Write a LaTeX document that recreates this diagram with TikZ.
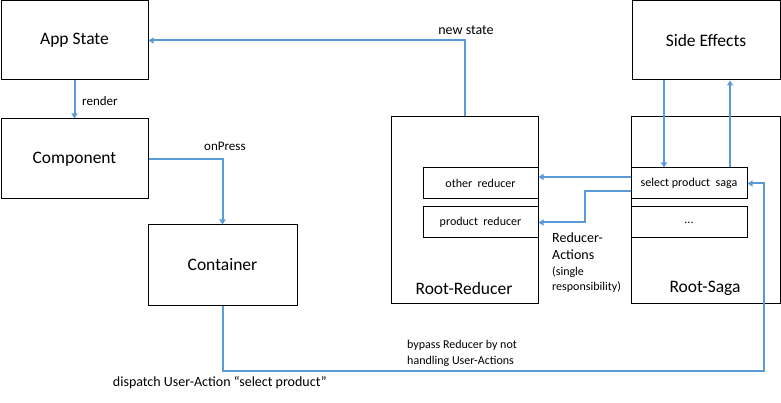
\documentclass[tikz,border=0pt]{standalone}
\usepackage{fontspec}
\setmainfont{Carlito}
\usetikzlibrary{arrows.meta}
\definecolor{lblue}{HTML}{5B9BD5}
\tikzset{
  box/.style={draw=black, line width=1pt, inner sep=0pt, font=\fontsize{17.5}{21}\selectfont},
  sub/.style={draw=black, line width=1pt, inner sep=0pt, minimum width=116pt, minimum height=31pt, font=\fontsize{12}{14}\selectfont},
  arr/.style={draw=lblue, line width=2pt, -{Triangle[length=5pt,width=6pt]}},
  lbl/.style={inner sep=0pt, font=\fontsize{13}{16}\selectfont},
  slbl/.style={inner sep=0pt, font=\fontsize{12}{16}\selectfont, align=left},
}
\begin{document}
\begin{tikzpicture}[x=1pt, y=-1pt]
\useasboundingbox (0,0) rectangle (781,403);
% boxes
\node[box, minimum width=147pt, minimum height=79pt] (app) at (74.5,40.5) {App State};
\node[box, minimum width=147pt, minimum height=80pt] (comp) at (74.5,159) {Component};
\node[box, minimum width=149pt, minimum height=80pt] (cont) at (222.5,265) {Container};
\node[box, minimum width=147pt, minimum height=186pt] (rr) at (464.5,210) {};
\node[box, minimum width=149pt, minimum height=186pt] (rs) at (705.5,210) {};
\node[box, minimum width=148pt, minimum height=79pt] (side) at (706,40.5) {Side Effects};
\node[inner sep=0pt, font=\fontsize{17.5}{21}\selectfont] (rrl) at (464,288) {Root-Reducer};
\node[inner sep=0pt, font=\fontsize{17.5}{21}\selectfont] (rsl) at (705,288) {Root-Saga};
\node[sub, minimum width=115pt] (other) at (480.5,183.5) {other\ \ reducer};
\node[sub, minimum width=115pt] (prod) at (480.5,222.5) {product\ \ reducer};
\node[sub] (saga) at (689,183.5) {select product\ \ saga};
\node[sub] (dots) at (689,222.5) {...};
% labels
\node[lbl, font=\fontsize{14}{16}\selectfont] (lnew) at (466,30) {new state};
\node[lbl, anchor=west] (lrender) at (82,101) {render};
\node[lbl, anchor=west] (lpress) at (204,146) {onPress};
\node[inner sep=0pt, align=left, anchor=north west, font=\fontsize{14}{17}\selectfont] (lra) at (552,233) {Reducer-\\Actions};
\node[inner sep=0pt, align=left, anchor=north west, font=\fontsize{12}{14.5}\selectfont] (lsr) at (552,267) {(single\\responsibility)};
\node[slbl, anchor=west] (lbyp) at (407,353) {bypass Reducer by not\\handling User-Actions};
\node[lbl, anchor=east, font=\fontsize{14}{16}\selectfont] (ldisp) at (327,383) {dispatch User-Action ``select product''};
% connectors
\coordinate (c1) at (764,371);
\draw[arr] (rr.north) |- (app.east);
\draw[arr] (app.south) -- (comp.north);
\draw[arr] (comp.east) -| (cont.north);
\draw[arr] ([xshift=-42pt]side.south) -- ([xshift=-25pt]saga.north);
\draw[arr] ([xshift=41pt]saga.north) -- ([xshift=24pt]side.south);
\draw[arr] ([yshift=6.5pt]saga.west) -- ([yshift=6.5pt]other.east);
\draw[arr] ([yshift=-7.5pt]saga.west) -| ([xshift=46pt]prod.east) -- (prod.east);
\draw[arr] (cont.south) |- (c1) |- (saga.east);
\end{tikzpicture}
\end{document}
